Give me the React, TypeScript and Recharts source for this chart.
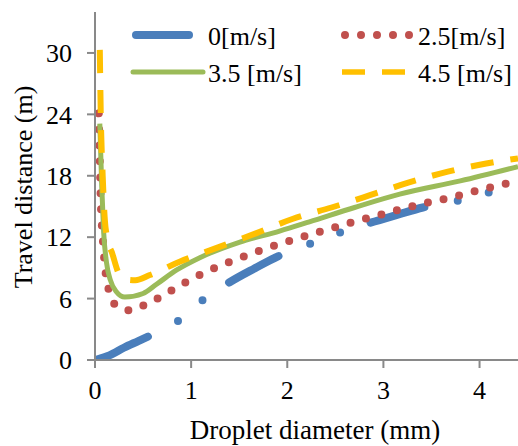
import { LineChart, Line, XAxis, YAxis, Legend, Label } from "recharts"

const FONT = "'Liberation Serif', 'Times New Roman', serif"
const AXIS = "#898989"

const seriesNames = ["0[m/s]", "2.5[m/s]", "3.5 [m/s]", "4.5 [m/s]"]

const xTicks = [0, 1, 2, 3, 4]
const yTicks = [0, 6, 12, 18, 24, 30]

// wind 0 m/s
const dia0 = [0.02, 0.15, 0.3, 0.45, 0.6, 0.86, 1.12, 1.4, 1.65, 1.92, 2.22, 2.53, 2.86, 3.15, 3.41, 3.75, 4.07, 4.4]
const dist0 = [0.05, 0.45, 1.2, 1.85, 2.5, 3.8, 5.85, 7.6, 8.9, 10.2, 11.3, 12.4, 13.4, 14.2, 14.9, 15.5, 16.3, 16.9]

// wind 2.5 m/s
const dia25 = [0.04, 0.05, 0.06, 0.08, 0.1, 0.13, 0.17, 0.23, 0.38, 0.54, 0.69, 0.83, 1.13, 1.43, 1.75, 2.08, 2.4, 2.73, 3.05, 3.38, 3.71, 4.04, 4.4]
const dist25 = [24.1, 19.5, 15.5, 12, 9.4, 7.4, 6.1, 5.2, 4.85, 5.5, 6.2, 7.0, 8.5, 9.7, 10.8, 11.8, 12.7, 13.6, 14.4, 15.2, 15.9, 16.7, 17.5]

// wind 3.5 m/s
const dia35 = [0.05, 0.07, 0.09, 0.12, 0.16, 0.22, 0.31, 0.5, 0.64, 0.85, 1.09, 1.5, 1.92, 2.23, 2.7, 3.17, 3.8, 4.4]
const dist35 = [23.1, 17, 12.5, 9.5, 7.8, 6.7, 6.15, 6.5, 7.4, 8.8, 10.0, 11.5, 12.6, 13.5, 14.9, 16.2, 17.5, 18.9]

// wind 4.5 m/s
const dia45 = [0.05, 0.06, 0.08, 0.1, 0.13, 0.18, 0.24, 0.3, 0.42, 0.57, 0.88, 1.28, 1.68, 2.06, 2.46, 2.86, 3.25, 3.67, 4.07, 4.4]
const dist45 = [30.3, 24, 18, 14, 11.8, 10.4, 8.6, 7.9, 7.8, 8.3, 9.6, 11.0, 12.4, 13.8, 14.9, 16.1, 17.3, 18.4, 19.2, 19.7]

const toPoints = (xs: number[], ys: number[]) => xs.map((x, i) => ({ x, y: ys[i] }))

const LegendBlock = () => (
  <svg width={518} height={95} style={{ display: "block" }}>
    <line x1={136} y1={35} x2={189} y2={35} stroke="#4a7ebb" strokeWidth={8} strokeLinecap="round" />
    <text x={208} y={45} fontFamily={FONT} fontSize={26} fill="#000">{seriesNames[0]}</text>
    <line x1={345} y1={35} x2={410} y2={35} stroke="#c0504d" strokeWidth={8} strokeLinecap="round" strokeDasharray="0 16" />
    <text x={418} y={45} fontFamily={FONT} fontSize={26} fill="#000">{seriesNames[1]}</text>
    <line x1={133} y1={72} x2={203} y2={72} stroke="#9bbb59" strokeWidth={5} strokeLinecap="round" />
    <text x={208} y={82} fontFamily={FONT} fontSize={26} fill="#000">{seriesNames[2]}</text>
    <line x1={342} y1={72} x2={405} y2={72} stroke="#ffc000" strokeWidth={5.5} strokeDasharray="23 17" />
    <text x={418} y={82} fontFamily={FONT} fontSize={26} fill="#000">{seriesNames[3]}</text>
  </svg>
)

export default function App() {
  const tick = { fill: "#000", fontSize: 26, fontFamily: FONT }
  return (
    <div style={{ position: "absolute", left: 0, top: 0 }}>
      <LineChart width={518} height={446} margin={{ top: 12, right: 0, bottom: 0, left: 0 }}>
        <XAxis
          type="number"
          dataKey="x"
          domain={[0, 4.4]}
          ticks={xTicks}
          allowDataOverflow
          height={86}
          tick={tick}
          tickSize={8}
          tickMargin={13}
          axisLine={{ stroke: AXIS, strokeWidth: 2 }}
          tickLine={{ stroke: AXIS, strokeWidth: 2 }}
        >
          <Label
            content={() => (
              <text x={315} y={439} textAnchor="middle" fontFamily={FONT} fontSize={27} fill="#000">
                Droplet diameter (mm)
              </text>
            )}
          />
        </XAxis>
        <YAxis
          type="number"
          dataKey="y"
          domain={[0, 34]}
          ticks={yTicks}
          allowDataOverflow
          width={95}
          tick={tick}
          tickSize={8}
          tickMargin={15}
          axisLine={{ stroke: AXIS, strokeWidth: 2 }}
          tickLine={{ stroke: AXIS, strokeWidth: 2 }}
        >
          <Label
            content={() => (
              <text
                x={32}
                y={187}
                transform="rotate(-90 32 187)"
                textAnchor="middle"
                fontFamily={FONT}
                fontSize={26}
                fill="#000"
              >
                Travel distance (m)
              </text>
            )}
          />
        </YAxis>
        <Legend
          layout="horizontal"
          verticalAlign="middle"
          align="center"
          content={() => <LegendBlock />}
          wrapperStyle={{ top: 0, left: 0, width: 518, height: 95 }}
        />
        <Line
          data={toPoints(dia0, dist0)}
          dataKey="y"
          name={seriesNames[0]}
          type="monotone"
          stroke="#4a7ebb"
          strokeWidth={8}
          strokeLinecap="round"
          strokeDasharray="56 34 0 32 0 32"
          dot={false}
          activeDot={false}
          isAnimationActive={false}
        />
        <Line
          data={toPoints(dia25, dist25)}
          dataKey="y"
          name={seriesNames[1]}
          type="monotone"
          stroke="#c0504d"
          strokeWidth={8}
          strokeLinecap="round"
          strokeDasharray="0 16"
          dot={false}
          activeDot={false}
          isAnimationActive={false}
        />
        <Line
          data={toPoints(dia35, dist35)}
          dataKey="y"
          name={seriesNames[2]}
          type="monotone"
          stroke="#9bbb59"
          strokeWidth={5}
          dot={false}
          activeDot={false}
          isAnimationActive={false}
        />
        <Line
          data={toPoints(dia45, dist45)}
          dataKey="y"
          name={seriesNames[3]}
          type="monotone"
          stroke="#ffc000"
          strokeWidth={6}
          strokeDasharray="23 17"
          dot={false}
          activeDot={false}
          isAnimationActive={false}
        />
      </LineChart>
    </div>
  )
}
